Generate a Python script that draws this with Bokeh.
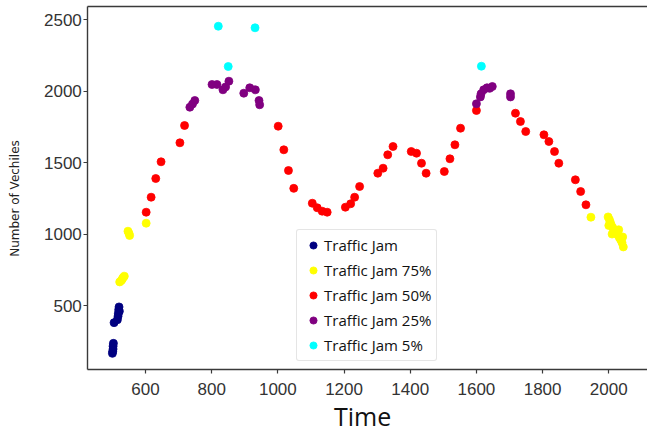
import math
from bokeh.plotting import figure
from bokeh.models import Range1d, FixedTicker, Label, Legend, LegendItem, LinearAxis
from bokeh.embed import file_html
from bokeh.resources import INLINE

# ---- data ----
jam_x = [500, 501, 502, 502, 503, 505, 515, 517, 518, 519, 520, 521]
jam_y = [165, 180, 195, 215, 235, 380, 400, 425, 445, 470, 490, 460]

jam75_x = [522, 527, 530, 532, 536, 547, 550, 552, 602, 1946,
           1998, 2000, 2002, 2005, 2008, 2010, 2012, 2018, 2022, 2027,
           2030, 2032, 2036, 2040, 2042, 2044]
jam75_y = [665, 675, 685, 695, 705, 1020, 1005, 990, 1076, 1118,
           1120, 1060, 1100, 1080, 1060, 1000, 1045, 1030, 1010, 995,
           1030, 975, 960, 940, 980, 910]

jam50_x = [602, 617, 631, 647, 704, 718,
           1001, 1018, 1032, 1048,
           1104, 1119, 1134, 1149,
           1204, 1220, 1232, 1247,
           1302, 1318, 1332, 1348,
           1403, 1419, 1434, 1448,
           1503, 1520, 1535, 1552,
           1600,
           1718, 1733, 1749,
           1804, 1819, 1836, 1849,
           1899, 1915, 1931]
jam50_y = [1153, 1258, 1389, 1506, 1639, 1760,
           1755, 1590, 1445, 1320,
           1216, 1184, 1160, 1153,
           1188, 1212, 1258, 1333,
           1426, 1461, 1555, 1613,
           1578, 1566, 1496, 1426,
           1438, 1527, 1625, 1741,
           1865,
           1846, 1788, 1718,
           1695, 1648, 1578, 1496,
           1380, 1298, 1205]

jam25_x = [734, 742, 749,
           801, 816, 834, 842, 852,
           897, 915, 932, 943, 945,
           1600, 1612, 1614, 1622, 1632, 1640, 1648,
           1703, 1703]
jam25_y = [1888, 1910, 1935,
           2047, 2047, 2010, 2030, 2070,
           1986, 2024, 2010, 1935, 1905,
           1912, 1960, 1982, 2010, 2024, 2020, 2033,
           1982, 1960]

jam5_x = [820, 850, 931, 1615]
jam5_y = [2455, 2173, 2444, 2175]

x_ticks = [600, 800, 1000, 1200, 1400, 1600, 1800, 2000]
y_ticks = [500, 1000, 1500, 2000, 2500]

series = [
    ("Traffic Jam", jam_x, jam_y, "#000080"),
    ("Traffic Jam 75%", jam75_x, jam75_y, "#FFFF00"),
    ("Traffic Jam 50%", jam50_x, jam50_y, "#FF0000"),
    ("Traffic Jam 25%", jam25_x, jam25_y, "#800080"),
    ("Traffic Jam 5%", jam5_x, jam5_y, "#00FFFF"),
]

# plot-area limits (data units)
X_LO, X_HI = 425.6, 2117
Y_LO, Y_HI = 50, 2593

p = figure(width=647, height=433, output_backend="svg", toolbar_location=None,
           x_range=Range1d(161.8, 2117), y_range=Range1d(-396, 2635),
           min_border_left=0, min_border_right=0, min_border_top=0,
           min_border_bottom=0, x_axis_location=None, y_axis_location=None)
p.grid.visible = False
p.outline_line_color = None

items = []
for name, xs, ys, col in series:
    r = p.scatter(xs, ys, size=8, fill_color=col, line_color=col, line_width=0.8)
    items.append(LegendItem(label=name, renderers=[r]))

axis_col = "#3a3a3a"

def style(ax):
    ax.axis_line_color = axis_col
    ax.axis_line_width = 1.4
    ax.major_tick_line_color = axis_col
    ax.major_tick_line_width = 1.2
    ax.major_tick_in = 0
    ax.major_tick_out = 4
    ax.minor_tick_line_color = None
    ax.major_label_text_font = "Liberation Sans"
    ax.major_label_text_font_size = "17px"
    ax.major_label_text_color = "#333333"

xaxis = LinearAxis(ticker=FixedTicker(ticks=x_ticks), fixed_location=Y_LO,
                   bounds=(X_LO, X_HI), major_label_standoff=9)
style(xaxis)
p.add_layout(xaxis, "below")

yaxis = LinearAxis(ticker=FixedTicker(ticks=y_ticks), fixed_location=X_LO,
                   bounds=(Y_LO, Y_HI), major_label_standoff=2)
style(yaxis)
p.add_layout(yaxis, "left")

top = LinearAxis(ticker=FixedTicker(ticks=[]), fixed_location=Y_HI,
                 bounds=(X_LO, X_HI))
style(top)
top.major_tick_line_color = None
top.major_label_text_color = None
p.add_layout(top, "above")

ylab = Label(x=207, y=1249, text="Number of Vechiles", angle=math.pi / 2,
             text_align="center", text_baseline="middle",
             text_font="DejaVu Sans", text_font_size="12px", text_color="#222222")
p.add_layout(ylab)

xlab = Label(x=1256, y=-270, text="Time", text_align="center",
             text_baseline="middle", text_font="Open Sans",
             text_font_size="25px", text_color="#111111")
p.add_layout(xlab)

legend = Legend(items=items, location=(296, 72), padding=5, spacing=5,
                glyph_width=22, glyph_height=18, label_height=18,
                label_standoff=0,
                label_text_font="Open Sans", label_text_font_size="15px",
                label_text_color="#111111",
                border_line_color="#cccccc", border_line_width=1,
                border_radius=3, background_fill_color="white",
                background_fill_alpha=1.0)
p.add_layout(legend)

open("out.html", "w").write(file_html(p, INLINE))
